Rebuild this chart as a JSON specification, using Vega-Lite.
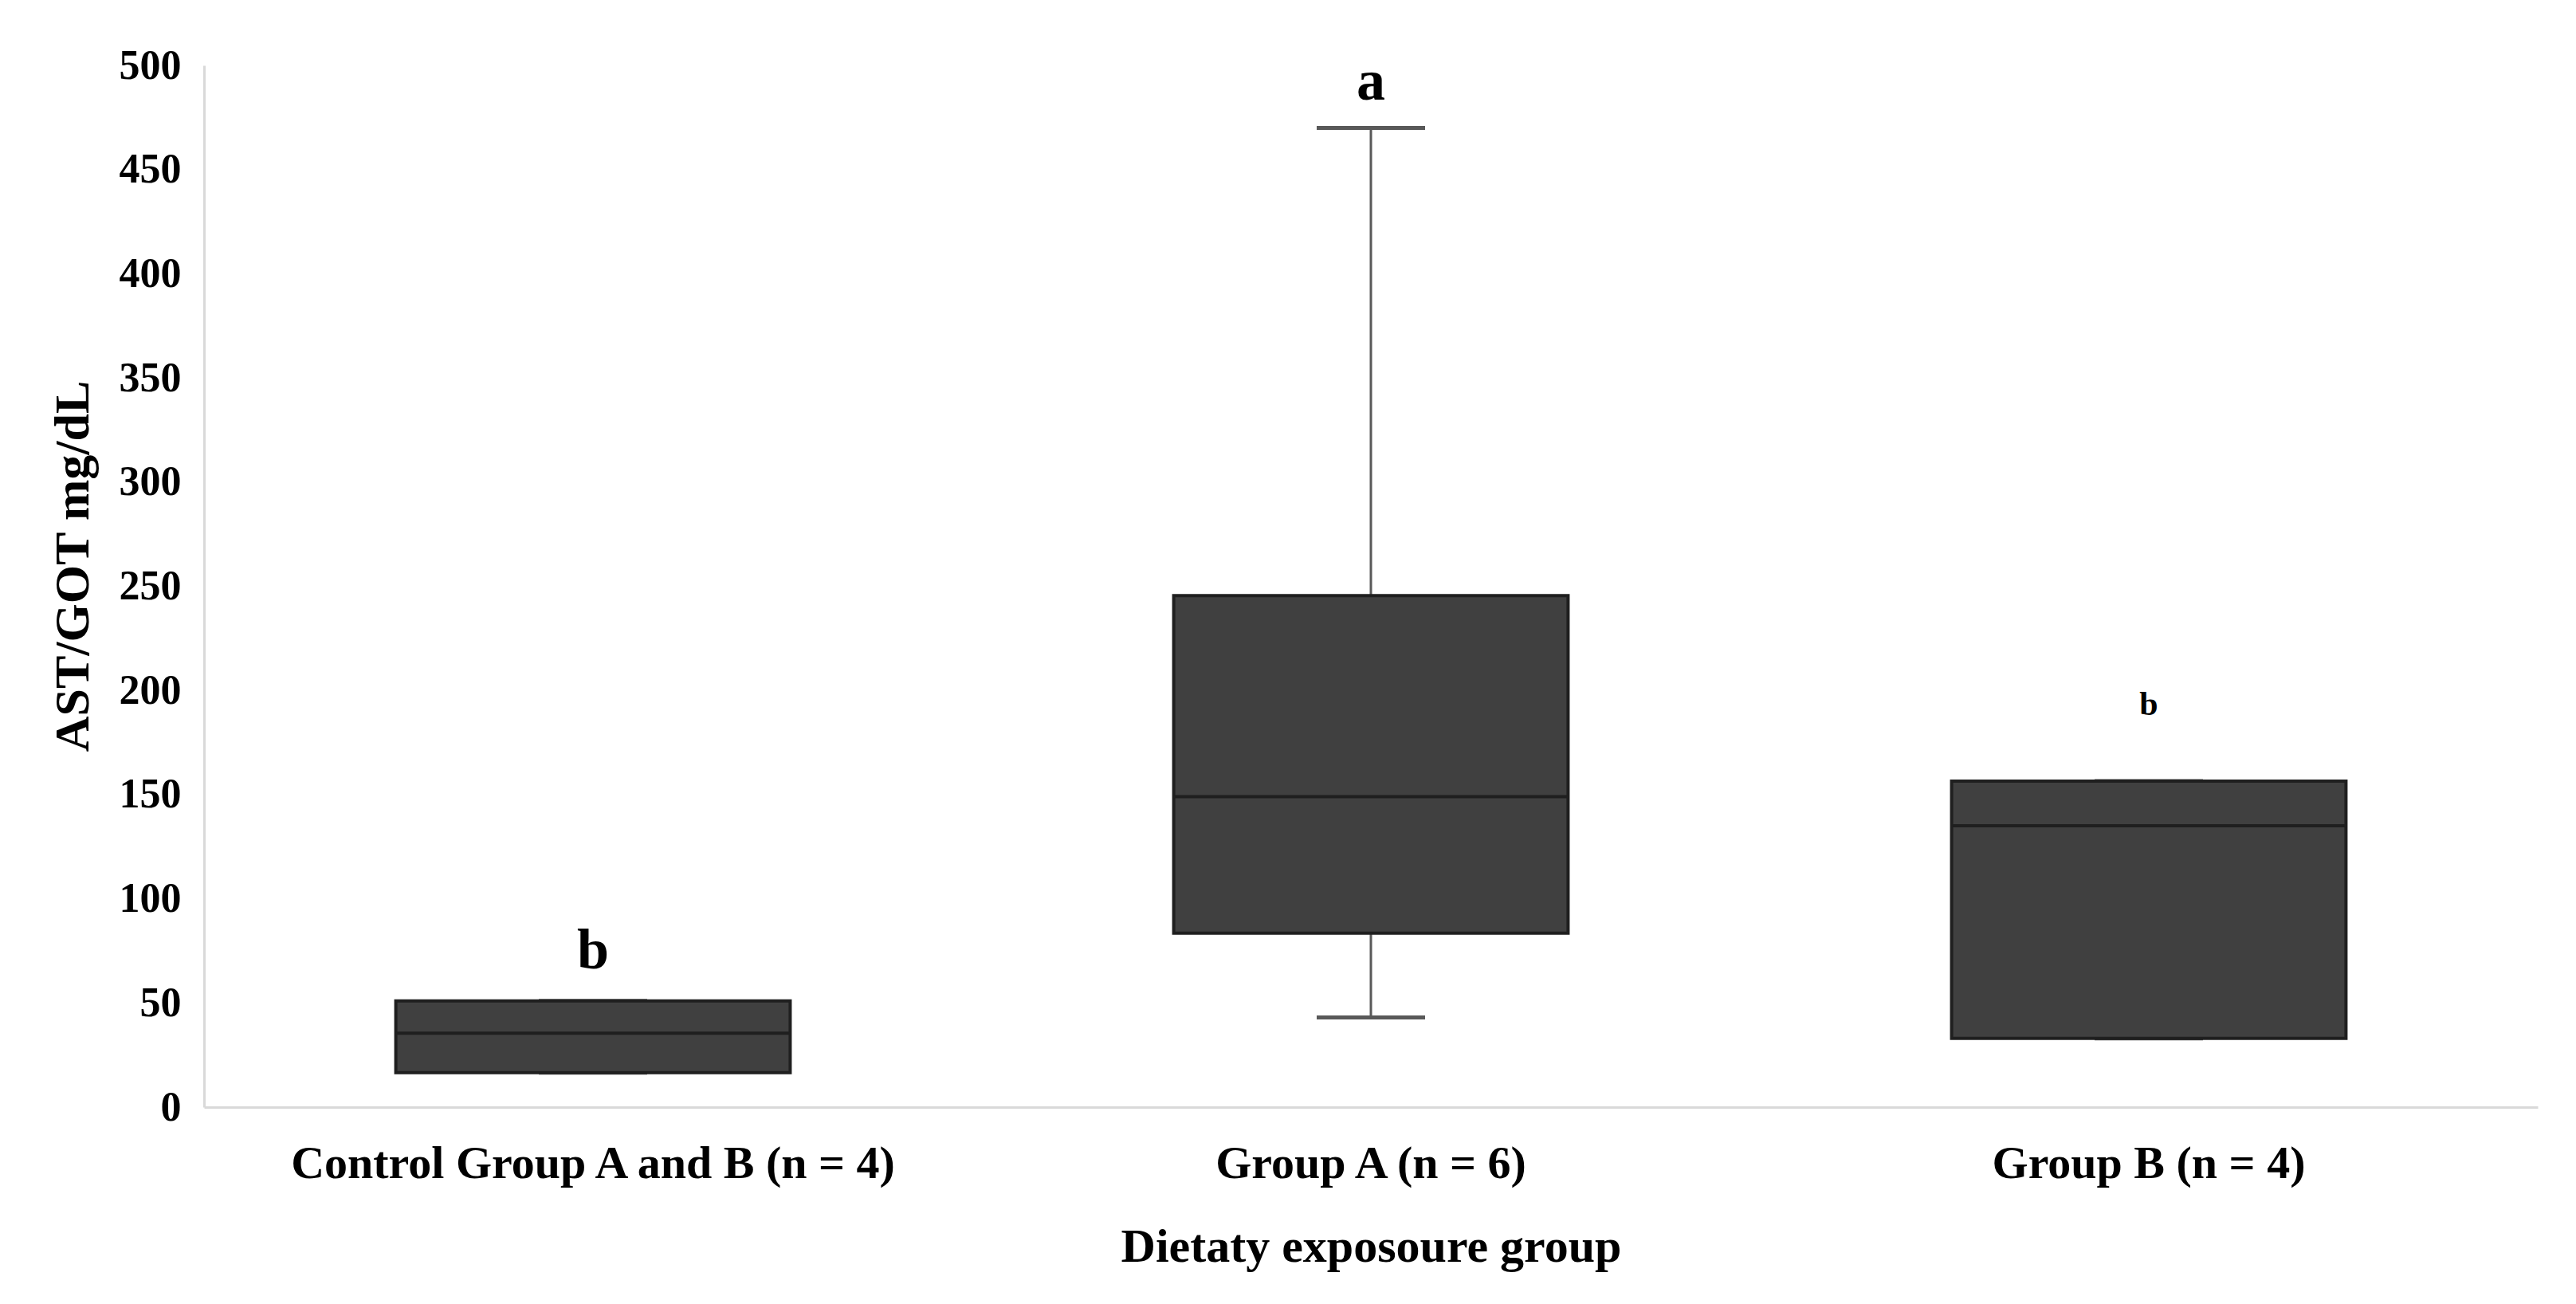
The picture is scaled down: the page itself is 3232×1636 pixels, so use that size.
{
  "$schema": "https://vega.github.io/schema/vega-lite/v6.json",
  "autosize": "none",
  "width": 2928,
  "height": 1307,
  "padding": {"left": 256, "top": 82, "right": 48, "bottom": 247},
  "background": "white",
  "config": {
    "view": {"stroke": null},
    "font": "Liberation Serif"
  },
  "data": {
    "values": [
      {"group": "Control Group A and B (n = 4)", "min": 16.5, "q1": 16.5, "median": 35.5, "q3": 51, "max": 51, "sig": "b", "sig_y": 75},
      {"group": "Group A (n = 6)", "min": 43, "q1": 83.5, "median": 149, "q3": 245.5, "max": 470, "sig": "a", "sig_y": 492},
      {"group": "Group B (n = 4)", "min": 33, "q1": 33, "median": 135, "q3": 156.5, "max": 156.5, "sig": "b", "sig_y": 193}
    ]
  },
  "encoding": {
    "x": {
      "field": "group",
      "type": "nominal",
      "sort": null,
      "scale": {"paddingInner": 0, "paddingOuter": 0},
      "axis": {
        "title": "Dietaty exposoure group",
        "titleFont": "Liberation Serif",
        "titleFontSize": 60,
        "titleFontWeight": "bold",
        "titleColor": "#000000",
        "titlePadding": 46,
        "labelFont": "Liberation Serif",
        "labelFontSize": 58,
        "labelFontWeight": "bold",
        "labelColor": "#000000",
        "labelAngle": 0,
        "labelLimit": 0,
        "labelPadding": 42,
        "ticks": false,
        "domainColor": "#d9d9d9",
        "domainWidth": 3
      }
    }
  },
  "layer": [
    {
      "mark": {"type": "rule", "color": "#595959", "strokeWidth": 3},
      "encoding": {
        "y": {
          "field": "min",
          "type": "quantitative",
          "scale": {"domain": [0, 500], "nice": false},
          "axis": {
            "title": "AST/GOT  mg/dL",
            "titleFont": "Liberation Serif",
            "titleFontSize": 62,
            "titleFontWeight": "bold",
            "titleColor": "#000000",
            "titlePadding": 26,
            "titleY": 628,
            "labelFont": "Liberation Serif",
            "labelFontSize": 52,
            "labelFontWeight": "bold",
            "labelColor": "#000000",
            "labelPadding": 29,
            "values": [0, 50, 100, 150, 200, 250, 300, 350, 400, 450, 500],
            "ticks": false,
            "grid": false,
            "domainColor": "#d9d9d9",
            "domainWidth": 3
          }
        },
        "y2": {"field": "max"}
      }
    },
    {
      "mark": {"type": "tick", "color": "#595959", "thickness": 5, "size": 136, "opacity": 1},
      "encoding": {"y": {"field": "max", "type": "quantitative"}}
    },
    {
      "mark": {"type": "tick", "color": "#595959", "thickness": 5, "size": 136, "opacity": 1},
      "encoding": {"y": {"field": "min", "type": "quantitative"}}
    },
    {
      "mark": {"type": "bar", "fill": "#404040", "stroke": "#1f1f1f", "strokeWidth": 4, "width": {"band": 0.507}},
      "encoding": {
        "y": {"field": "q1", "type": "quantitative"},
        "y2": {"field": "q3"}
      }
    },
    {
      "mark": {"type": "tick", "color": "#1f1f1f", "thickness": 4, "size": 494, "opacity": 1},
      "encoding": {"y": {"field": "median", "type": "quantitative"}}
    },
    {
      "mark": {"type": "text", "font": "Liberation Serif", "fontWeight": "bold", "color": "#000000", "baseline": "middle", "align": "center"},
      "encoding": {
        "y": {"field": "sig_y", "type": "quantitative"},
        "text": {"field": "sig"},
        "size": {
          "condition": {"test": "datum.group === 'Group B (n = 4)'", "value": 42},
          "value": 72
        }
      }
    }
  ]
}
